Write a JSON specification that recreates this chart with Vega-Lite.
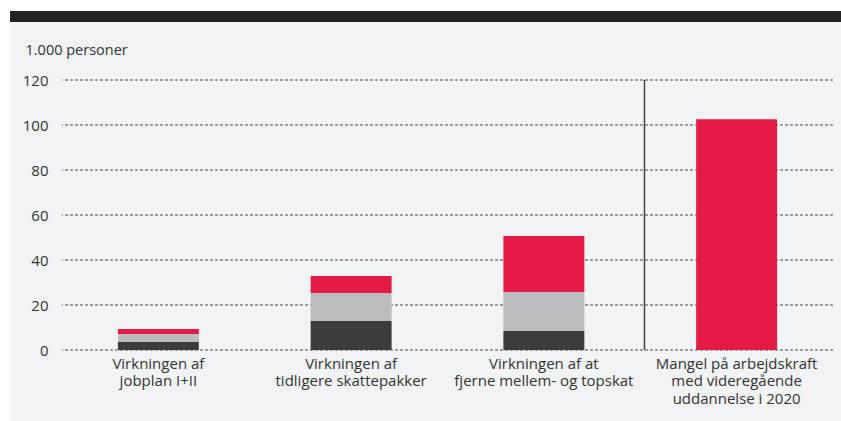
{
  "$schema": "https://vega.github.io/schema/vega-lite/v6.json",
  "autosize": "none",
  "width": 771,
  "height": 270,
  "padding": {"left": 62, "top": 80, "right": 8, "bottom": 71},
  "background": "#ffffff",
  "config": {
    "view": {"stroke": null},
    "font": "Open Sans",
    "axis": {"labelFont": "Open Sans", "titleFont": "Open Sans", "labelColor": "#333333", "titleColor": "#333333"}
  },
  "datasets": {
    "bars": [
      {"cat": "Virkningen af|jobplan I+II", "part": "a", "ord": 1, "value": 3.6},
      {"cat": "Virkningen af|jobplan I+II", "part": "b", "ord": 2, "value": 3.5},
      {"cat": "Virkningen af|jobplan I+II", "part": "c", "ord": 3, "value": 2.2},
      {"cat": "Virkningen af|tidligere skattepakker", "part": "a", "ord": 1, "value": 12.9},
      {"cat": "Virkningen af|tidligere skattepakker", "part": "b", "ord": 2, "value": 12.4},
      {"cat": "Virkningen af|tidligere skattepakker", "part": "c", "ord": 3, "value": 7.6},
      {"cat": "Virkningen af at|fjerne mellem- og topskat", "part": "a", "ord": 1, "value": 8.4},
      {"cat": "Virkningen af at|fjerne mellem- og topskat", "part": "b", "ord": 2, "value": 17.4},
      {"cat": "Virkningen af at|fjerne mellem- og topskat", "part": "c", "ord": 3, "value": 24.9},
      {"cat": "Mangel på arbejdskraft|med videregående|uddannelse i 2020", "part": "c", "ord": 3, "value": 102.6}
    ],
    "grid": [{"y": 0}, {"y": 20}, {"y": 40}, {"y": 60}, {"y": 80}, {"y": 100}, {"y": 120}],
    "sep": [{"cat": "Mangel på arbejdskraft|med videregående|uddannelse i 2020"}],
    "frame": [
      {"kind": "bg", "x0": -0.0674, "x1": 1.0104, "y0": -32, "y1": 145.78},
      {"kind": "top", "x0": -0.0674, "x1": 1.0104, "y0": 145.78, "y1": 150.67}
    ]
  },
  "layer": [
    {
      "data": {"name": "frame"},
      "mark": {"type": "rect", "clip": false},
      "encoding": {
        "x": {"field": "x0", "type": "quantitative", "scale": {"domain": [0, 1], "nice": false, "zero": false}, "axis": null},
        "x2": {"field": "x1"},
        "y": {"field": "y0", "type": "quantitative", "scale": {"domain": [0, 120], "nice": false},
          "axis": {"values": [0, 20, 40, 60, 80, 100, 120], "grid": false, "domain": false, "ticks": false, "labelFontSize": 15, "labelPadding": 14,
            "title": "1.000 personer", "titleAngle": 0, "titleAlign": "left", "titleBaseline": "alphabetic", "titleX": -37, "titleY": -26, "titleFontSize": 14.5, "titleFontWeight": "normal", "zindex": 1}},
        "y2": {"field": "y1"},
        "fill": {"field": "kind", "type": "nominal", "scale": {"domain": ["bg", "top"], "range": ["#f2f3f5", "#222222"]}, "legend": null}
      }
    },
    {
      "data": {"name": "grid"},
      "mark": {"type": "rule", "color": "#4a4a4a", "strokeWidth": 1, "strokeDash": [3, 2]},
      "encoding": {
        "y": {"field": "y", "type": "quantitative"}
      }
    },
    {
      "data": {"name": "bars"},
      "mark": {"type": "bar", "width": {"band": 0.42}},
      "encoding": {
        "x": {
          "field": "cat", "type": "nominal", "sort": null,
          "scale": {"type": "band", "paddingInner": 0, "paddingOuter": 0,
            "domain": ["Virkningen af|jobplan I+II", "Virkningen af|tidligere skattepakker", "Virkningen af at|fjerne mellem- og topskat", "Mangel på arbejdskraft|med videregående|uddannelse i 2020"]},
          "axis": {"title": null, "domain": false, "ticks": false, "labelAngle": 0, "labelFontSize": 15, "labelPadding": 6, "labelLineHeight": 17.5, "labelBaseline": "top", "labelExpr": "split(datum.label, '|')", "labelOverlap": false, "labelLimit": 0, "zindex": 1}
        },
        "y": {"field": "value", "type": "quantitative", "stack": "zero"},
        "color": {"field": "part", "type": "nominal", "scale": {"domain": ["a", "b", "c"], "range": ["#3c3c3c", "#bbbcbf", "#e41b45"]}, "legend": null},
        "order": {"field": "ord", "type": "quantitative"}
      }
    },
    {
      "data": {"name": "sep"},
      "mark": {"type": "rule", "color": "#444444", "strokeWidth": 1.5},
      "encoding": {
        "x": {
          "field": "cat", "type": "nominal", "bandPosition": 0.022,
          "scale": {"type": "band", "paddingInner": 0, "paddingOuter": 0,
            "domain": ["Virkningen af|jobplan I+II", "Virkningen af|tidligere skattepakker", "Virkningen af at|fjerne mellem- og topskat", "Mangel på arbejdskraft|med videregående|uddannelse i 2020"]},
          "axis": null
        }
      }
    }
  ],
  "resolve": {"scale": {"x": "independent"}, "axis": {"x": "independent"}}
}
